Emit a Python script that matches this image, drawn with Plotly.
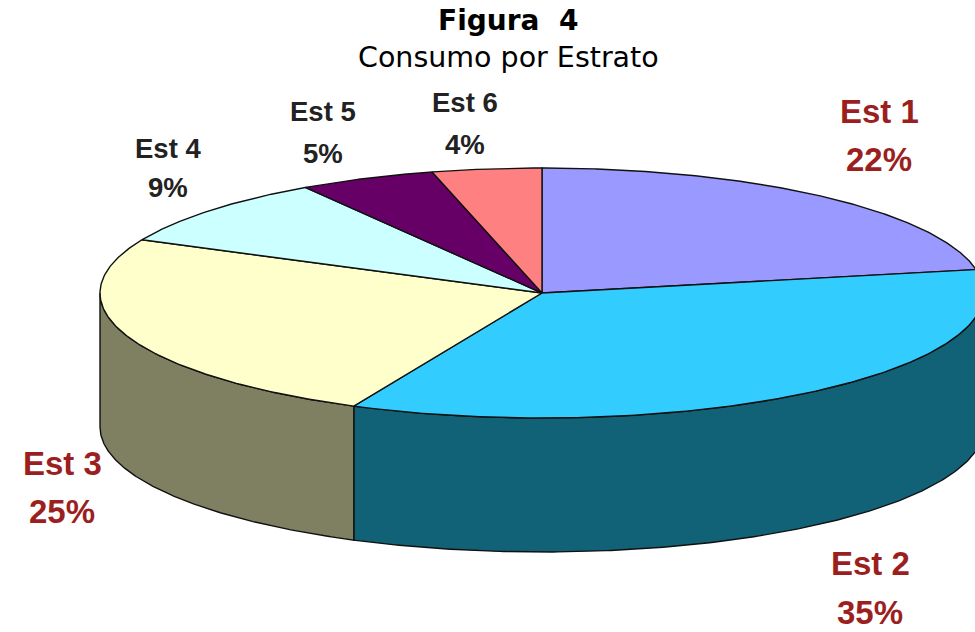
import numpy as np
import plotly.graph_objects as go

# ---- data ----
categories = ["Est 1", "Est 2", "Est 3", "Est 4", "Est 5", "Est 6"]
values = [22, 35, 25, 9, 5, 4]

# ---- styles ----
top_colors = ["#9999FF", "#33CCFF", "#FFFFCC", "#CCFFFF", "#660066", "#FF8080"]
side_colors = ["#4D4D80", "#116277", "#7F7F62", "#668080", "#330033", "#804040"]
big_label_color = "#9C1F1F"
small_label_color = "#222222"
big_labels = [True, True, True, False, False, False]

# label layout (pixel positions of each label's two lines)
label_x = [879, 870, 62, 168, 323, 465]
label_y1 = [111, 563, 463, 148, 111, 102]
label_y2 = [159, 612, 511, 187, 153, 144]

W, H = 975, 632
cx, cy = 542, 293      # centre of the top face
ra, rb = 442, 125      # ellipse semi-axes
depth = 134            # thickness of the pie

total = float(sum(values))
bounds = np.concatenate([[0.0], np.cumsum(values) / total * 2 * np.pi])


def arc(t1, t2, dy=0.0, n=200):
    t = np.linspace(t1, t2, n)
    return cx + ra * np.sin(t), cy - rb * np.cos(t) + dy


fig = go.Figure()

# side walls (front half only)
for i, cat in enumerate(categories):
    lo = max(bounds[i], np.pi / 2)
    hi = min(bounds[i + 1], 3 * np.pi / 2)
    if lo < hi:
        xt, yt = arc(lo, hi)
        xb, yb = arc(hi, lo, depth)
        xs = np.concatenate([xt, xb, [xt[0]]])
        ys = np.concatenate([yt, yb, [yt[0]]])
        fig.add_trace(go.Scatter(x=xs, y=ys, mode="lines", fill="toself",
                                 fillcolor=side_colors[i],
                                 line=dict(color="#111111", width=1.4),
                                 hoverinfo="skip", name=cat))

# top faces
for i, cat in enumerate(categories):
    xa, ya = arc(bounds[i], bounds[i + 1])
    xs = np.concatenate([[cx], xa, [cx]])
    ys = np.concatenate([[cy], ya, [cy]])
    fig.add_trace(go.Scatter(x=xs, y=ys, mode="lines", fill="toself",
                             fillcolor=top_colors[i],
                             line=dict(color="#111111", width=1.4),
                             hoverinfo="text", text=f"{cat}: {values[i]}%",
                             name=cat))

annotations = []
for i, cat in enumerate(categories):
    big = big_labels[i]
    font = dict(family="Liberation Sans, Arial, sans-serif",
                size=33 if big else 27.5,
                color=big_label_color if big else small_label_color)
    annotations.append(dict(x=label_x[i], y=label_y1[i], xref="x", yref="y",
                            text=f"<b>{cat}</b>", showarrow=False, font=font,
                            xanchor="center", yanchor="middle"))
    annotations.append(dict(x=label_x[i], y=label_y2[i], xref="x", yref="y",
                            text=f"<b>{values[i]}%</b>", showarrow=False, font=font,
                            xanchor="center", yanchor="middle"))

annotations.append(dict(x=508, y=20, xref="x", yref="y",
                        text="<b>Figura\u00a0\u00a04</b>", showarrow=False,
                        font=dict(family="DejaVu Sans", size=28, color="#000000"),
                        xanchor="center", yanchor="middle"))
annotations.append(dict(x=508, y=57, xref="x", yref="y",
                        text="Consumo por Estrato", showarrow=False,
                        font=dict(family="DejaVu Sans", size=28.5, color="#000000"),
                        xanchor="center", yanchor="middle"))

fig.update_layout(
    width=W, height=H,
    margin=dict(l=0, r=0, t=0, b=0),
    paper_bgcolor="white", plot_bgcolor="white",
    showlegend=False,
    xaxis=dict(range=[0, W], visible=False, fixedrange=True),
    yaxis=dict(range=[H, 0], visible=False, fixedrange=True),
    annotations=annotations,
)

fig.write_html("out.html",
               config={"displayModeBar": False},
               post_script="document.body.style.margin='0';"
                           "document.body.style.overflow='hidden';")
